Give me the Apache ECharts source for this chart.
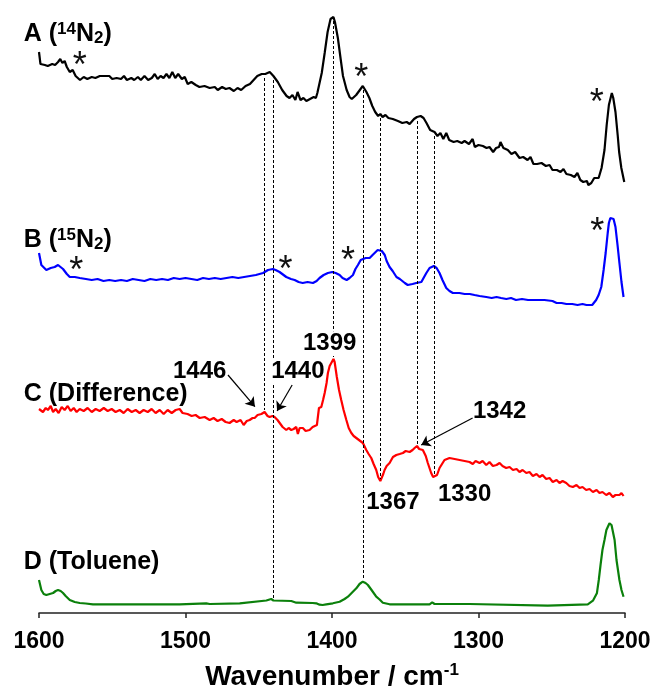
<!DOCTYPE html>
<html>
<head>
<meta charset="utf-8">
<script src="https://cdn.jsdelivr.net/npm/echarts/dist/echarts.min.js"></script>
<style>
  html, body { margin: 0; padding: 0; background: #ffffff; }
  #chart { width: 654px; height: 689px; }
</style>
</head>
<body>
<div id="chart"></div>
<script>
// Wavenumber axis (cm-1), drawn high to low
const xTicks = [1600, 1500, 1400, 1300, 1200];

// Each spectrum: [wavenumber, intensity (a.u.) above its own baseline]
const spectrumA = [[1600,138],[1599,126],[1596,125],[1594,124],[1591,126],[1589,125],[1587,128],[1585.5,131],[1584,127],[1582.5,129],[1581,123],[1579,118],[1577,120],[1575,114],[1572,110],[1569.5,113],[1567,111],[1564,113],[1561.5,112],[1558.5,114],[1552,114],[1550,111],[1547,112],[1544,111],[1542,114],[1540,110],[1537,112],[1535,110],[1532.5,113],[1530.5,110],[1528,114],[1525.5,110],[1523,112],[1521,116],[1519,111],[1517,114],[1515,112],[1513,116],[1511,112],[1509,118],[1507,112],[1505,116],[1502.5,111],[1500.5,113],[1498.5,106],[1496,108],[1493,105],[1490.5,103],[1487,104],[1483.5,102],[1480,103],[1478,100],[1475,103],[1472.5,101],[1470,102],[1467,99],[1464.5,102],[1462,100],[1459,104],[1456,106],[1453.5,110],[1451,114],[1448,116],[1445.5,116],[1442.5,118],[1440,114],[1437,108],[1434,100],[1431,94],[1429,92],[1427,95],[1425,90],[1423.5,98],[1421.5,90],[1419.5,92],[1417.5,89],[1415,91],[1412.5,93],[1411,92],[1410,97],[1408.5,107],[1407,117],[1405,137],[1403,158],[1401,171],[1399,173],[1398,168],[1396,152],[1394,130],[1392.5,114],[1390,100],[1388,93],[1386.5,91],[1383.5,95],[1381,100],[1379,104],[1378,103],[1376.5,98],[1374.5,92],[1372.5,84],[1370.5,78],[1368.5,74],[1367,76],[1365.5,73],[1363.5,75],[1361.5,72],[1358.5,71],[1355,69],[1352,67],[1349,68],[1347,66],[1344,71],[1342,73],[1341,71],[1339.5,74],[1337.5,72],[1335.5,67],[1333,60],[1330,58],[1328,54],[1326,57],[1324,51],[1322,57],[1320,50],[1317,48],[1314.5,49],[1311.5,47],[1309.5,49],[1306.5,46],[1304,51],[1302.5,43],[1300,45],[1297,44],[1294.5,42],[1292.5,43],[1290,38],[1288,42],[1286,43],[1285,48],[1283,42],[1280,40],[1277.5,36],[1275,38],[1272,32],[1269.5,33],[1266.5,30],[1264.5,33],[1262.5,26],[1260,26],[1257,27],[1254,24],[1251.5,25],[1249.5,20],[1246.5,20],[1244,18],[1242,21],[1240,16],[1237,15],[1234.5,13],[1232.5,17],[1230.5,10],[1228.5,8],[1226,9],[1225,5],[1223,7],[1221,12],[1218,12],[1216,22],[1214,40],[1212.5,65],[1211,85],[1209,97],[1208,92],[1206.5,78],[1205,55],[1204,38],[1202.5,22],[1200.5,8]];

const spectrumB = [[1600,57],[1598.4,45],[1595,40],[1592,42],[1589.3,43],[1587,45],[1586,45],[1583.6,41],[1581,36],[1579,33],[1575.6,33],[1572.2,32],[1568,31],[1564,30],[1560,31],[1556,29],[1552,30],[1548,29],[1544,30],[1540,29],[1536,31],[1532,30],[1528,29],[1524,31],[1520,30],[1516,31],[1512,30],[1508,32],[1504,31],[1500,32],[1496,31],[1492,30],[1488,32],[1484,31],[1480,32],[1476,31],[1472,32],[1468,33],[1464,32],[1460,33],[1456,34],[1452,35],[1447,37],[1443.7,40],[1440.3,41],[1438.5,40],[1435.8,38],[1431.2,33],[1428,31],[1425.5,30],[1422.8,28],[1420,27],[1416.7,28],[1413,27],[1410.5,29],[1408.5,32],[1405.7,35],[1402.8,37],[1399.8,38],[1397.5,37],[1394.8,35],[1392.8,32],[1390,30],[1388,32],[1385.7,35],[1384,41],[1382.3,45],[1380.4,50],[1379.3,52],[1377,52],[1374.3,52],[1372.3,55],[1371,57],[1368.8,60],[1367.5,61],[1366,59],[1364,55],[1362.7,49],[1360.7,43],[1358.6,39],[1356,33],[1353.7,31],[1350.3,27],[1348.3,25],[1347,24],[1345,26],[1342.5,27],[1339,28],[1337.5,32],[1335.6,37],[1333.4,42],[1330.5,44],[1328.6,42],[1326.6,37],[1324.6,30],[1322,22],[1319.8,19],[1317.5,17],[1313,17],[1309.5,16],[1306,16],[1302.7,15],[1299.3,14],[1294.7,13],[1291,12],[1287.7,13],[1284.6,12],[1281,11],[1277.8,12],[1274.4,10],[1270.3,11],[1266.2,10],[1260.6,10],[1255,10],[1249.5,9],[1246.7,7],[1243.3,7],[1240,6],[1236,6],[1232.4,5],[1229,6],[1226.3,5],[1222.4,5],[1219.7,10],[1218,15],[1216.2,23],[1214.6,40],[1213.2,57],[1211.8,77],[1211,87],[1210,92],[1209,93],[1207.8,91],[1206.5,83],[1205.1,65],[1203.8,47],[1202.4,28],[1201,13]];

const spectrumC = [[1600,91],[1597.3,88],[1595.4,92],[1593.9,90],[1592,94],[1590.4,88],[1588.6,91],[1586.6,87],[1584.5,93],[1582.5,90],[1580.4,94],[1578.4,89],[1576.3,92],[1574.3,88],[1572.2,91],[1569.5,89],[1566.8,92],[1564,88],[1561.3,91],[1558.6,89],[1555.8,92],[1553.1,89],[1550.4,91],[1547.7,88],[1544.9,90],[1542.2,87],[1539.5,91],[1536.7,88],[1534,90],[1531.3,87],[1528.6,90],[1525.8,88],[1523.1,91],[1520.4,87],[1517.6,90],[1514.9,86],[1512.2,90],[1509.4,87],[1506.7,90],[1504,91],[1502,87],[1498.6,86],[1495.8,84],[1493.1,85],[1490.3,82],[1486.9,83],[1483.5,80],[1480.8,82],[1478.1,79],[1475.3,81],[1472.6,78],[1469.9,77],[1467.1,80],[1465.1,78],[1462.4,80],[1460.3,75],[1458.2,79],[1456.2,80],[1454.2,82],[1452.8,82],[1450.8,85],[1448.2,86],[1446,88],[1444,84],[1442.6,83],[1440.6,84],[1439.2,83],[1437.2,80],[1435.7,77],[1433.7,73],[1431.2,70],[1429.6,72],[1427.8,70],[1426.2,71],[1424.4,73],[1423.3,66],[1422.1,72],[1419.9,72],[1418,69],[1415.3,70],[1413.2,73],[1411.9,72],[1410.3,75],[1408.9,92],[1407.3,93],[1406.1,100],[1405,107],[1403.7,117],[1402.8,127],[1401.6,134],[1399,141],[1398.2,138],[1396.7,123],[1395.2,110],[1393.7,100],[1392.1,90],[1390.2,80],[1388.6,72],[1386.8,67],[1385.2,64],[1383.4,62],[1382.5,63],[1380.7,59],[1378.9,57],[1376.6,50],[1375,46],[1373.2,42],[1371.6,36],[1369.8,30],[1368.5,23],[1367,19],[1366,21],[1365,26],[1364.1,30],[1362.7,34],[1360.7,37],[1358.4,43],[1356.1,45],[1353.8,46],[1351.6,47],[1349.7,49],[1347,48],[1345,50],[1343.6,52],[1342,54],[1340.5,51],[1339.5,53],[1338,50],[1336,44],[1334.6,37],[1332.3,27],[1331,23],[1330,22],[1328.3,25],[1326.6,32],[1324.9,36],[1323.2,40],[1322,42],[1319.8,42],[1316.3,41],[1312.9,40],[1309.5,39],[1306.1,38],[1303.9,36],[1302,39],[1299.3,37],[1297.2,39],[1294.7,35],[1292.5,38],[1290.2,34],[1287.7,35],[1285.6,37],[1283.6,34],[1281.1,32],[1278.8,33],[1276.5,30],[1274,31],[1272,28],[1269.9,30],[1267.4,27],[1265.2,28],[1262.9,24],[1260.4,26],[1258.3,23],[1256.3,25],[1253.8,21],[1251.5,22],[1249.3,18],[1246.7,20],[1244.7,17],[1242.6,19],[1240.1,17],[1237.9,14],[1235.6,13],[1233.1,15],[1231,12],[1229,13],[1226.5,10],[1224.2,11],[1221.9,8],[1219.4,10],[1217.4,7],[1215.4,8],[1212.8,5],[1210.6,7],[1208.3,3],[1206.5,5],[1203.8,5],[1202.4,7],[1201,4]];

const spectrumD = [[1600,26],[1598.4,16],[1596.8,12],[1595,11],[1592.7,12],[1590.4,13],[1588.6,15],[1587,16],[1585.2,15],[1583.6,13],[1581.8,10],[1579,6],[1575.6,4],[1572.2,3],[1568.1,2.5],[1563.2,1.7],[1504,1.7],[1502.8,2.7],[1485.8,2.7],[1484.7,1],[1483.5,2],[1482.4,2.7],[1463,2.7],[1461.9,4.3],[1444.8,5.5],[1441.5,7],[1440,5.5],[1439.2,6],[1427.8,5],[1424.4,3.3],[1413.2,3],[1410.7,2.7],[1409.8,1],[1408.5,1.3],[1406.4,1],[1403.9,1.7],[1399.4,2.7],[1394.8,4.3],[1391.4,7],[1389.1,9.3],[1386.6,13],[1383.4,17.7],[1381.2,22],[1379,24.3],[1377.1,23],[1375.5,21],[1373,16],[1369.8,9.3],[1367.5,6.5],[1365.3,3.3],[1360.7,1.7],[1333.4,1.7],[1331.6,3.7],[1330,2],[1306.1,2],[1304.9,0.3],[1252.7,0.3],[1251.5,1.7],[1225.4,1.7],[1221.9,5.3],[1219.2,12.7],[1217.9,26],[1216.7,41],[1215.4,56],[1214,66],[1212.7,76],[1210.6,82.7],[1209.2,81],[1207.1,66],[1205.8,46],[1203.8,26],[1202.4,16],[1201,9.3]];

// Band positions marked with dotted guides, and the traces they join
const guideLines = [
  { wn: 1446, from: 'A', to: 'C' },
  { wn: 1440, from: 'A', to: 'D' },
  { wn: 1399, from: 'A', to: 'C' },
  { wn: 1379, from: 'A', to: 'D' },
  { wn: 1367, from: 'A', to: 'C' },
  { wn: 1342, from: 'A', to: 'C' },
  { wn: 1330, from: 'A', to: 'C' }
];

// Band labels on the difference trace: [text, anchor wavenumber, anchor intensity]
const peakLabels = [
  ['1446', 1490.3, 129],
  ['1440', 1423.3, 128.3],
  ['1399', 1401.6, 156.7],
  ['1342', 1285.6, 88.3],
  ['1367', 1358.4, -2.7],
  ['1330', 1309.5, 5.7]
];

// Arrows from a label to its band on trace C: [from wn, from int, to wn, to int]
const peakArrows = [
  [1471, 125, 1452.6, 93.3],
  [1427.2, 115, 1437.5, 89],
  [1304, 82, 1339.1, 55]
];

// Asterisks flagging solvent (toluene) bands: [trace, wn, intensity]
const solventMarks = [
  ['A', 1572.2, 132], ['A', 1380, 120], ['A', 1219.2, 95],
  ['B', 1574.5, 46.7], ['B', 1431.7, 48.3], ['B', 1389.1, 56.7], ['B', 1219, 86]
];

// Trace captions: [trace, rich text, anchor wn, anchor intensity]
const traceCaptions = [
  ['A', '{m|A (}{sup|14}{m|N}{sub|2}{m|)}', 1610.4, 156],
  ['B', '{m|B (}{sup|15}{m|N}{sub|2}{m|)}', 1610.4, 70],
  ['C', '{m|C (Difference)}', 1610.4, 106],
  ['D', '{m|D (Toluene)}', 1610.4, 44]
];

const FONT = '"Liberation Sans", Arial, Helvetica, sans-serif';
const spectra = { A: spectrumA, B: spectrumB, C: spectrumC, D: spectrumD };
const colors = { A: '#000000', B: '#0000ff', C: '#ff0000', D: '#0b800b' };
// vertical stacking of the four traces
const stackOffset = { A: 423, B: 303, C: 113, D: 7 };

function lifted(key, v) { return v + stackOffset[key]; }
function valueAt(data, wn) {
  for (let i = 0; i < data.length - 1; i++) {
    const a = data[i], b = data[i + 1];
    if ((a[0] - wn) * (b[0] - wn) <= 0) {
      const t = a[0] === b[0] ? 0 : (wn - a[0]) / (b[0] - a[0]);
      return a[1] + t * (b[1] - a[1]);
    }
  }
  return data[data.length - 1][1];
}

const chart = echarts.init(document.getElementById('chart'));

const series = ['A', 'B', 'C', 'D'].map(key => ({
  type: 'line',
  name: key,
  data: spectra[key].map(p => [p[0], lifted(key, p[1])]),
  symbol: 'none',
  lineStyle: { color: colors[key], width: 2.2 },
  z: 3,
  silent: true,
  animation: false
}));

series[0].markLine = {
  silent: true,
  animation: false,
  symbol: ['none', 'none'],
  label: { show: false },
  lineStyle: { color: '#000', width: 1, type: [3, 2] },
  emphasis: { disabled: true },
  data: guideLines.map(g => [
    { coord: [g.wn, lifted(g.from, valueAt(spectra[g.from], g.wn)) - 4] },
    { coord: [g.wn, lifted(g.to, valueAt(spectra[g.to], g.wn)) + 2] }
  ])
};

series[2].markLine = {
  silent: true,
  animation: false,
  symbol: ['none', 'arrow'],
  symbolSize: 9,
  label: { show: false },
  lineStyle: { color: '#000', width: 1.2, type: 'solid' },
  emphasis: { disabled: true },
  data: peakArrows.map(a => [
    { coord: [a[0], lifted('C', a[1])] },
    { coord: [a[2], lifted('C', a[3])] }
  ])
};

chart.setOption({
  animation: false,
  backgroundColor: '#ffffff',
  grid: { left: 39, right: 29, top: 0, bottom: 76, containLabel: false, outerBoundsMode: 'none' },
  xAxis: {
    type: 'value',
    min: 1200,
    max: 1600,
    interval: 100,
    inverse: true,
    axisLine: { show: true, lineStyle: { color: '#222', width: 1.5 } },
    axisTick: { show: true, inside: false, length: 5, lineStyle: { color: '#222', width: 1.5 } },
    splitLine: { show: false },
    axisLabel: {
      color: '#000', fontSize: 23, fontWeight: 'bold', fontFamily: FONT, margin: 17,
      formatter: v => (xTicks.indexOf(v) >= 0 ? String(v) : '')
    },
    name: 'Wavenumber / cm{sup|-1}',
    nameLocation: 'middle',
    nameGap: 49,
    nameTextStyle: {
      color: '#000', fontSize: 28, fontWeight: 'bold', fontFamily: FONT, lineHeight: 30,
      rich: {
        sup: { fontSize: 17, fontWeight: 'bold', fontFamily: FONT, color: '#000', lineHeight: 17, verticalAlign: 'top' }
      }
    }
  },
  yAxis: { type: 'value', min: 0, max: 613, show: false },
  series: series
});

function px(key, wn, v) {
  return chart.convertToPixel({ gridIndex: 0 }, [wn, lifted(key, v)]);
}

const graphics = [];
const richMain = {
  m: { fontSize: 25, fontWeight: 'bold', fontFamily: FONT, fill: '#000', lineHeight: 26, verticalAlign: 'middle' },
  sup: { fontSize: 17, fontWeight: 'bold', fontFamily: FONT, fill: '#000', lineHeight: 17, verticalAlign: 'top' },
  sub: { fontSize: 17, fontWeight: 'bold', fontFamily: FONT, fill: '#000', lineHeight: 17, verticalAlign: 'bottom' }
};

traceCaptions.forEach(c => {
  const p = px(c[0], c[2], c[3]);
  graphics.push({
    type: 'text', x: p[0], y: p[1], z: 100, silent: true,
    style: { text: c[1], rich: richMain, align: 'left', verticalAlign: 'middle', textAlign: 'left', textVerticalAlign: 'middle' }
  });
});

peakLabels.forEach(l => {
  const p = px('C', l[1], l[2]);
  graphics.push({
    type: 'text', x: p[0], y: p[1], z: 100, silent: true,
    style: {
      text: l[0], fontSize: 24, fontWeight: 'bold', fontFamily: FONT, fill: '#000',
      backgroundColor: '#ffffff',
      align: 'center', verticalAlign: 'middle', textAlign: 'center', textVerticalAlign: 'middle'
    }
  });
});

solventMarks.forEach(s => {
  const p = px(s[0], s[1], s[2]);
  graphics.push({
    type: 'text', x: p[0], y: p[1] + 9, z: 100, silent: true,
    style: {
      text: '*', fontSize: 36, fontWeight: 'normal', fontFamily: FONT, fill: '#111',
      align: 'center', verticalAlign: 'middle', textAlign: 'center', textVerticalAlign: 'middle'
    }
  });
});

chart.setOption({ graphic: { elements: graphics } });
</script>
</body>
</html>
